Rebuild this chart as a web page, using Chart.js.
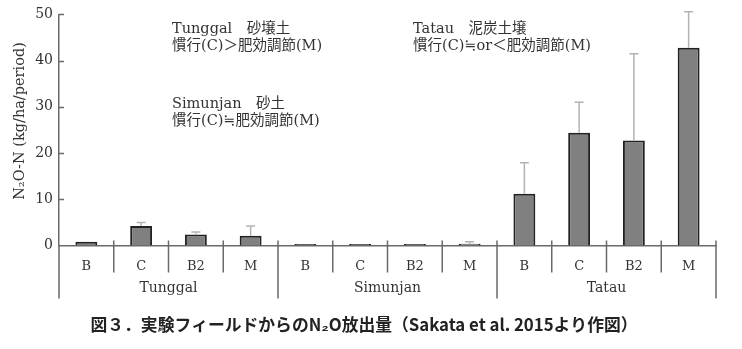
<!DOCTYPE html>
<html>
<head>
<meta charset="utf-8">
<script src="https://cdn.jsdelivr.net/npm/chart.js@4.4.1/dist/chart.umd.min.js"></script>
<style>
  html, body { margin: 0; padding: 0; background: #fff; }
  canvas { display: block; }
</style>
</head>
<body>
<canvas id="n2oChart" width="742" height="349"></canvas>
<script>
// sites and treatments
const sites = ['Tunggal', 'Simunjan', 'Tatau'];
const treatments = ['B', 'C', 'B2', 'M'];

// N2O-N emission (kg/ha/period) and upper error per site, in treatment order
const tunggalValues = [0.8, 4.2, 2.4, 2.1];
const tunggalErrors = [0, 0.8, 0.5, 2.1];
const simunjanValues = [0.3, 0.3, 0.3, 0.4];
const simunjanErrors = [0, 0, 0, 0.4];
const tatauValues = [11.2, 24.4, 22.7, 42.8];
const tatauErrors = [6.7, 6.6, 18.8, 7.8];

const yTicks = [0, 10, 20, 30, 40, 50];

const notes = [
    { lines: ['Tunggal\u3000砂壌土', '慣行(C)＞肥効調節(M)'], x: 172, y: 29 },
    { lines: ['Simunjan\u3000砂土', '慣行(C)≒肥効調節(M)'], x: 172, y: 104 },
    { lines: ['Tatau\u3000泥炭土壌', '慣行(C)≒or＜肥効調節(M)'], x: 413, y: 29 }
];

const labels = sites.flatMap(() => treatments);
const values = [...tunggalValues, ...simunjanValues, ...tatauValues];
const errors = [...tunggalErrors, ...simunjanErrors, ...tatauErrors];

const serif = '"DejaVu Serif", "Noto Sans CJK JP", serif';
const textColor = '#333';
const axisColor = '#6a6a6a';

// error whiskers, inward y ticks, category dividers, site names and notes
const decorations = {
    id: 'decorations',
    afterDatasetsDraw(chart) {
        const ctx = chart.ctx;
        const x = chart.scales.x;
        const y = chart.scales.y;
        const area = chart.chartArea;
        const meta = chart.getDatasetMeta(0);

        ctx.save();
        ctx.strokeStyle = '#b3b3b3';
        ctx.lineWidth = 1.5;
        meta.data.forEach((bar, i) => {
            if (!errors[i]) return;
            const top = y.getPixelForValue(values[i] + errors[i]);
            ctx.beginPath();
            ctx.moveTo(bar.x, bar.y);
            ctx.lineTo(bar.x, top);
            ctx.moveTo(bar.x - 4.5, top);
            ctx.lineTo(bar.x + 4.5, top);
            ctx.stroke();
        });

        ctx.strokeStyle = axisColor;
        ctx.lineWidth = 1.5;
        ctx.beginPath();
        // y axis runs down through the label rows
        ctx.moveTo(area.left, area.bottom);
        ctx.lineTo(area.left, area.bottom + 53);
        yTicks.slice(1).forEach(v => {
            const py = Math.round(y.getPixelForValue(v)) + 0.5;
            ctx.moveTo(area.left, py);
            ctx.lineTo(area.left + 5, py);
        });
        for (let i = 1; i <= labels.length; i++) {
            const bx = i < labels.length
                ? (x.getPixelForValue(i - 1) + x.getPixelForValue(i)) / 2
                : area.right;
            const long = i % treatments.length === 0;
            ctx.moveTo(bx, area.bottom - 5);
            ctx.lineTo(bx, area.bottom + (long ? 53 : 27));
        }
        ctx.stroke();

        ctx.fillStyle = textColor;
        ctx.textAlign = 'center';
        ctx.textBaseline = 'middle';
        ctx.font = '14px ' + serif;
        sites.forEach((site, s) => {
            const first = x.getPixelForValue(s * treatments.length);
            const last = x.getPixelForValue(s * treatments.length + treatments.length - 1);
            ctx.fillText(site, (first + last) / 2, area.bottom + 43);
        });

        // y axis title
        ctx.save();
        ctx.translate(20, 121);
        ctx.rotate(-Math.PI / 2);
        ctx.font = '14.5px ' + serif;
        ctx.fillText('N₂O-N (kg/ha/period)', 0, 0);
        ctx.restore();

        ctx.textAlign = 'left';
        ctx.font = '14.5px ' + serif;
        notes.forEach(n => {
            n.lines.forEach((line, k) => ctx.fillText(line, n.x, n.y + k * 17));
        });

        ctx.textAlign = 'center';
        ctx.fillStyle = '#222';
        ctx.font = 'bold 16.8px "Noto Sans CJK JP", sans-serif';
        ctx.fillText('図３．実験フィールドからのN₂O放出量（Sakata et al. 2015より作図）', 364, 325);
        ctx.restore();
    }
};

new Chart(document.getElementById('n2oChart'), {
    type: 'bar',
    data: {
        labels: labels,
        datasets: [{
            data: values,
            backgroundColor: '#808080',
            borderColor: '#222',
            borderWidth: 2,
            barPercentage: 0.4,
            categoryPercentage: 1.0
        }]
    },
    options: {
        responsive: false,
        animation: false,
        devicePixelRatio: 1,
        layout: { padding: { top: 14, right: 26, left: 0, bottom: 0 } },
        plugins: {
            legend: { display: false },
            tooltip: { enabled: false }
        },
        scales: {
            x: {
                grid: { display: false, drawTicks: false },
                border: { color: axisColor, width: 1.5 },
                ticks: { color: textColor, font: { family: serif, size: 13 }, padding: 13, maxRotation: 0, autoSkip: false },
                afterFit(scale) { scale.height = 103.5; }
            },
            y: {
                min: 0,
                max: 50,
                grid: { display: false, drawTicks: false },
                border: { color: axisColor, width: 1.5 },
                ticks: { stepSize: 10, color: textColor, font: { family: serif, size: 14 }, padding: 6 },
                afterFit(scale) { scale.width = 59; }
            }
        }
    },
    plugins: [decorations]
});
</script>
</body>
</html>
